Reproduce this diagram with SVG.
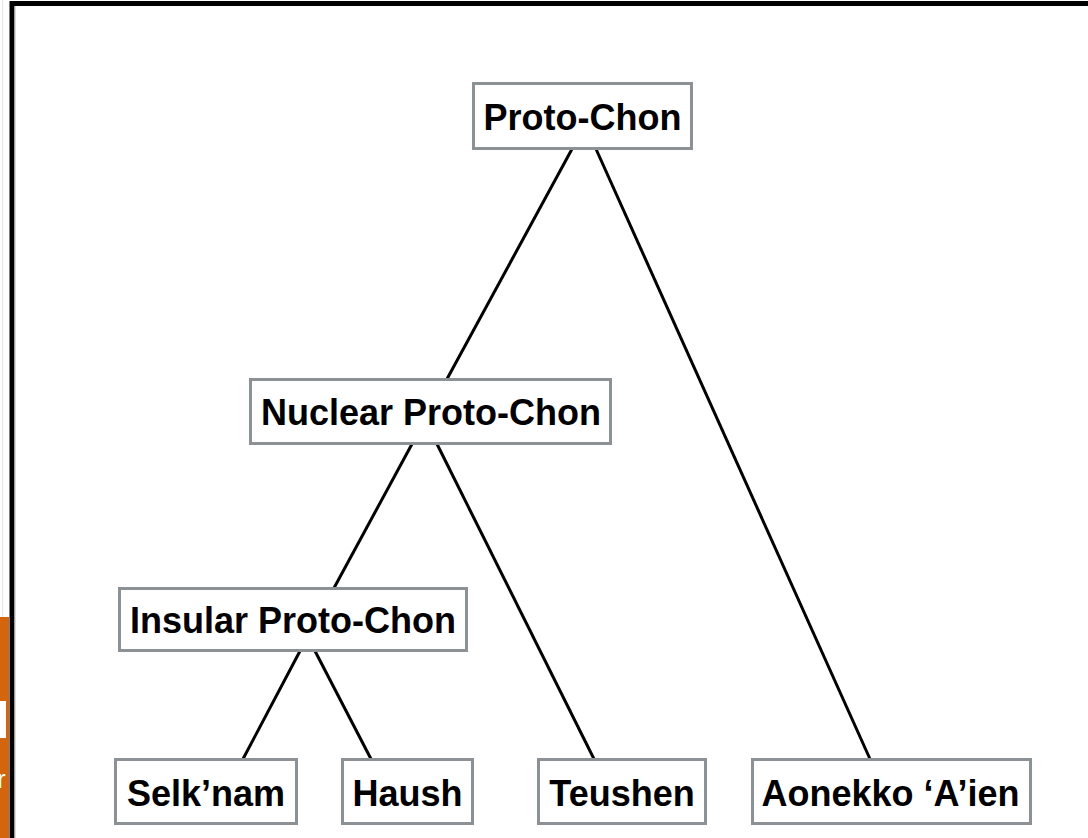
<svg xmlns="http://www.w3.org/2000/svg" width="1088" height="838" viewBox="0 0 1088 838">
<style>
.box{fill:#fff;stroke:#8c9196;stroke-width:3}
.lbl{font-family:"Liberation Sans",Arial,sans-serif;font-weight:bold;font-size:36px;fill:#000;text-anchor:middle}
.edge{stroke:#000;stroke-width:3;fill:none}
</style>
<rect x="0" y="0" width="1088" height="838" fill="#fff"/>
<line x1="2.5" y1="0" x2="2.5" y2="617" stroke="#e6e6e6" stroke-width="1"/>
<rect x="0" y="617" width="9" height="221" fill="#d2650e"/>
<rect x="0" y="701" width="6" height="37" fill="#fff"/>
<text x="-3" y="788" font-family="Liberation Sans,sans-serif" font-size="26" fill="#fff">r</text>
<line x1="10" y1="3.5" x2="1088" y2="3.5" stroke="#000" stroke-width="5"/>
<line x1="12" y1="1" x2="12" y2="838" stroke="#000" stroke-width="5"/>
<line x1="15" y1="6" x2="15" y2="838" stroke="#bbb" stroke-width="1"/>
<g id="connectors">
<line class="edge" x1="572" y1="149" x2="447" y2="379"/>
<line class="edge" x1="596" y1="149" x2="870" y2="759"/>
<line class="edge" x1="412" y1="444" x2="334" y2="588"/>
<line class="edge" x1="437" y1="444" x2="594" y2="759"/>
<line class="edge" x1="300" y1="651" x2="243" y2="759"/>
<line class="edge" x1="315" y1="651" x2="371" y2="759"/>
</g>
<g id="proto-chon"><rect class="box" x="473.5" y="83.5" width="218" height="65"/><text class="lbl" x="582.5" y="129.5">Proto-Chon</text></g>
<g id="nuclear"><rect class="box" x="250.5" y="379.5" width="360" height="64"/><text class="lbl" x="431" y="424.5">Nuclear Proto-Chon</text></g>
<g id="insular"><rect class="box" x="119.5" y="588.5" width="347" height="62"/><text class="lbl" x="293" y="632.5">Insular Proto-Chon</text></g>
<g id="selknam"><rect class="box" x="115.5" y="759.5" width="181" height="64"/><text class="lbl" x="206" y="805.5">Selk’nam</text></g>
<g id="haush"><rect class="box" x="342.5" y="759.5" width="130" height="64"/><text class="lbl" x="407.5" y="805.5">Haush</text></g>
<g id="teushen"><rect class="box" x="538.5" y="759.5" width="167" height="64"/><text class="lbl" x="622" y="805.5">Teushen</text></g>
<g id="aonekko"><rect class="box" x="752.5" y="759.5" width="278" height="64"/><text class="lbl" x="890.5" y="805.5">Aonekko ‘A’ien</text></g>
</svg>
